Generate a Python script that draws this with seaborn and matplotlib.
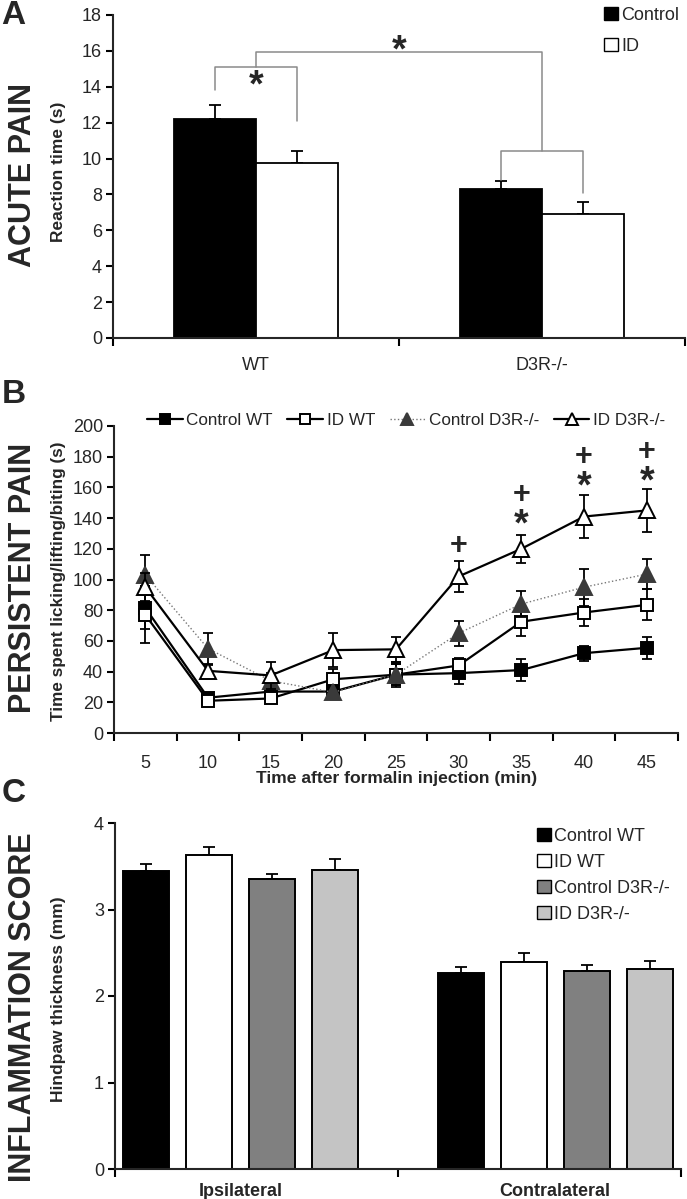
import numpy as np
import pandas as pd
import matplotlib
matplotlib.use("Agg")
import matplotlib.pyplot as plt
import seaborn as sns
from matplotlib.patches import Patch
from matplotlib.lines import Line2D
from matplotlib.container import BarContainer
from matplotlib import font_manager as fm

# ---------------- data ----------------
# Panel A: acute pain
genotypes_a = ["WT", "D3R-/-"]
diets_a = ["Control", "ID"]
acute_control = [12.2, 8.3]
acute_control_err = [0.8, 0.45]
acute_id = [9.75, 6.9]
acute_id_err = [0.65, 0.7]

# Panel B: persistent pain (formalin)
times = [5, 10, 15, 20, 25, 30, 35, 40, 45]
ctrl_wt = [81.5, 23, 27, 27, 38, 39, 41, 52, 55.5]
ctrl_wt_err = [14, 2, 3, 2, 8, 7, 7, 5, 7]
id_wt = [77, 21, 22.5, 35, 38, 44, 72.5, 78.5, 83.5]
id_wt_err = [18.5, 2, 2, 7, 7, 5, 9.5, 9, 10]
ctrl_d3r = [103, 55, 34, 26.5, 38, 65, 84, 95, 103.5]
ctrl_d3r_err = [13, 10, 5, 3, 7, 8, 8.5, 12, 10]
id_d3r = [95, 40.5, 37.5, 54, 54.5, 102, 120, 141, 145]
id_d3r_err = [9, 4, 9, 11, 8, 10, 9, 14, 14]
plus_times = [30, 35, 40, 45]
plus_y = [122, 155, 180, 183]
star_times = [35, 40, 45]
star_y = [139, 164, 167]

# Panel C: inflammation
sides = ["Ipsilateral", "Contralateral"]
groups_c = ["Control WT", "ID WT", "Control D3R-/-", "ID D3R-/-"]
thick_ctrl_wt = [3.45, 2.27]
thick_ctrl_wt_err = [0.08, 0.07]
thick_id_wt = [3.63, 2.39]
thick_id_wt_err = [0.09, 0.11]
thick_ctrl_d3r = [3.35, 2.29]
thick_ctrl_d3r_err = [0.06, 0.07]
thick_id_d3r = [3.46, 2.31]
thick_id_d3r_err = [0.12, 0.10]

# ---------------- style ----------------
sns.set_theme(style="ticks")
names = {f.name for f in fm.fontManager.ttflist}
FONT = "Liberation Sans" if "Liberation Sans" in names else "DejaVu Sans"
plt.rcParams["font.family"] = [FONT, "DejaVu Sans"]
plt.rcParams["axes.linewidth"] = 1.5
TICK = 13

W, H = 687, 1199
fig = plt.figure(figsize=(W / 100, H / 100), dpi=100)


def ax_px(left, right, top, bottom):
    return fig.add_axes([left / W, 1 - bottom / H, (right - left) / W, (bottom - top) / H])


def style_axes(ax, xpad):
    sns.despine(ax=ax)
    ax.tick_params(axis="y", which="major", length=5, width=1.5, labelsize=TICK, pad=3, color="black")
    ax.tick_params(axis="x", which="major", length=0, labelsize=TICK, pad=xpad)
    ax.tick_params(axis="x", which="minor", length=6, width=1.5, color="black", bottom=True)
    ax.set_xlabel("")
    ax.set_ylabel("")
    ax.set_facecolor("none")


def bar_centers(ax):
    conts = [c for c in ax.containers if isinstance(c, BarContainer)]
    return ([[p.get_x() + p.get_width() / 2 for p in c] for c in conts],
            [[p.get_height() for p in c] for c in conts])


def add_up_errors(ax, errs):
    xs_all, hs_all = bar_centers(ax)
    for xs, hs, err in zip(xs_all, hs_all, errs):
        ax.errorbar(xs, hs, yerr=[np.zeros(len(err)), err], fmt="none", ecolor="black",
                    elinewidth=1.3, capsize=4, capthick=1.3, zorder=1)


# ---------------- Panel A ----------------
axA = ax_px(113, 685, 15, 338)
dfA = pd.DataFrame({
    "genotype": genotypes_a * 2,
    "diet": [diets_a[0]] * 2 + [diets_a[1]] * 2,
    "value": acute_control + acute_id,
})
sns.barplot(data=dfA, x="genotype", y="value", hue="diet", order=genotypes_a, hue_order=diets_a,
            palette=["black", "white"], edgecolor="black", linewidth=1.3, width=0.575, gap=0,
            errorbar=None, legend=False, ax=axA, zorder=2)
add_up_errors(axA, [acute_control_err, acute_id_err])
axA.set_ylim(0, 18)
axA.set_yticks(np.arange(0, 19, 2))
axA.set_xlim(-0.5, 1.5)
axA.set_xticks([-0.5, 0.5, 1.5], minor=True)
style_axes(axA, 14)

# significance brackets
cA, _ = bar_centers(axA)
gray = "#8a8a8a"
wt_l, wt_r = cA[0][0], cA[1][0]
d3_l, d3_r = cA[0][1], cA[1][1]
axA.plot([wt_l, wt_l, wt_r, wt_r], [13.8, 15.1, 15.1, 12.1], color=gray, lw=1.1, zorder=3)
axA.plot([d3_l, d3_l, d3_r, d3_r], [8.8, 10.4, 10.4, 8.1], color=gray, lw=1.1, zorder=3)
mid_wt, mid_d3 = (wt_l + wt_r) / 2, (d3_l + d3_r) / 2
axA.plot([mid_wt, mid_wt, mid_d3, mid_d3], [15.1, 15.95, 15.95, 10.4], color=gray, lw=1.1, zorder=3)
axA.text(mid_wt, 14.0, "*", ha="center", va="center", fontsize=27, fontweight="bold")
axA.text((mid_wt + mid_d3) / 2, 15.95, "*", ha="center", va="center", fontsize=27, fontweight="bold")

axA.legend(handles=[Patch(facecolor="black", edgecolor="black", label="Control"),
                    Patch(facecolor="white", edgecolor="black", label="ID")],
           loc="upper left", bbox_to_anchor=(604 / W, 1 - 7 / H), bbox_transform=fig.transFigure,
           frameon=False, fontsize=TICK, handlelength=0.75, handleheight=0.75, handletextpad=0.2,
           labelspacing=0.75, borderpad=0, borderaxespad=0)

fig.text(13 / W, 1 - 15 / H, "A", ha="center", va="center", fontsize=24, fontweight="bold")
fig.text(23 / W, 1 - 175 / H, "ACUTE PAIN", rotation=90, ha="center", va="center", fontsize=22, fontweight="bold")
fig.text(59 / W, 1 - 172 / H, "Reaction time (s)", rotation=90, ha="center", va="center", fontsize=12.5, fontweight="bold")

# ---------------- Panel B ----------------
axB = ax_px(114, 678, 426, 733)
series = [
    ("Control WT", ctrl_wt, ctrl_wt_err, dict(marker="s", markerfacecolor="black", markeredgecolor="black",
                                              linestyle="-", color="black", markersize=9, linewidth=1.6)),
    ("ID WT", id_wt, id_wt_err, dict(marker="s", markerfacecolor="white", markeredgecolor="black",
                                     linestyle="-", color="black", markersize=9, linewidth=1.6)),
    ("Control D3R-/-", ctrl_d3r, ctrl_d3r_err, dict(marker="^", markerfacecolor="#3a3a3a", markeredgecolor="#3a3a3a",
                                                    linestyle=":", color="#777777", markersize=11, linewidth=1.0)),
    ("ID D3R-/-", id_d3r, id_d3r_err, dict(marker="^", markerfacecolor="white", markeredgecolor="black",
                                           linestyle="-", color="black", markersize=11, linewidth=1.6)),
]
tlabels = [str(t) for t in times]
handles = []
for i, (name, vals, errs, kw) in enumerate(series):
    d = pd.DataFrame({"time": tlabels, "value": vals})
    n_before = len(axB.lines)
    sns.pointplot(data=d, x="time", y="value", order=tlabels, errorbar=None, ax=axB,
                  color=kw["color"], markers=kw["marker"], linestyles=kw["linestyle"],
                  markersize=kw["markersize"], linewidth=kw["linewidth"], zorder=3 + i)
    ln = axB.lines[n_before]
    ln.set_markerfacecolor(kw["markerfacecolor"])
    ln.set_markeredgecolor(kw["markeredgecolor"])
    ln.set_markeredgewidth(1.4)
    ln.set_zorder(3 + i)
    xs = ln.get_xdata()
    axB.errorbar(xs, vals, yerr=errs, fmt="none", ecolor="black", elinewidth=1.3, capsize=3.5,
                 capthick=1.3, zorder=2 + i)
    handles.append(Line2D([0], [0], color=kw["color"], linestyle=kw["linestyle"], linewidth=kw["linewidth"],
                          marker=kw["marker"], markerfacecolor=kw["markerfacecolor"],
                          markeredgecolor=kw["markeredgecolor"], markeredgewidth=1.4,
                          markersize=kw["markersize"] - 2, label=name))

pos = {t: i for i, t in enumerate(times)}
for t, y in zip(plus_times, plus_y):
    axB.text(pos[t], y, "+", ha="center", va="center", fontsize=22, fontweight="bold")
for t, y in zip(star_times, star_y):
    axB.text(pos[t], y - 4, "*", ha="center", va="center", fontsize=27, fontweight="bold")

axB.set_ylim(0, 200)
axB.set_yticks(np.arange(0, 201, 20))
axB.set_xlim(-0.5, len(times) - 0.5)
axB.set_xticks(np.arange(-0.5, len(times)), minor=True)
style_axes(axB, 16)
axB.legend(handles=handles, loc="upper left", bbox_to_anchor=(147 / W, 1 - 413 / H),
           bbox_transform=fig.transFigure, ncol=4, frameon=False, fontsize=12.3,
           handlelength=2.1, handletextpad=0.2, columnspacing=0.85, borderpad=0, borderaxespad=0)

fig.text(14 / W, 1 - 394 / H, "B", ha="center", va="center", fontsize=24, fontweight="bold")
fig.text(23 / W, 1 - 578 / H, "PERSISTENT PAIN", rotation=90, ha="center", va="center", fontsize=22, fontweight="bold")
fig.text(59 / W, 1 - 581 / H, "Time spent licking/lifting/biting (s)", rotation=90, ha="center", va="center",
         fontsize=12.3, fontweight="bold")
fig.text(397 / W, 1 - 778 / H, "Time after formalin injection (min)", ha="center", va="center",
         fontsize=12.6, fontweight="bold")

# ---------------- Panel C ----------------
axC = ax_px(115, 681, 823, 1169)
dfC = pd.DataFrame({
    "side": sides * 4,
    "group": [g for g in groups_c for _ in sides],
    "value": thick_ctrl_wt + thick_id_wt + thick_ctrl_d3r + thick_id_d3r,
})
pal_c = ["black", "white", "#808080", "#c4c4c4"]
sns.barplot(data=dfC, x="side", y="value", hue="group", order=sides, hue_order=groups_c,
            palette=pal_c, edgecolor="black", linewidth=1.4, width=0.8, gap=0.27,
            errorbar=None, legend=False, ax=axC, zorder=2)
add_up_errors(axC, [thick_ctrl_wt_err, thick_id_wt_err, thick_ctrl_d3r_err, thick_id_d3r_err])
axC.set_ylim(0, 4)
axC.set_yticks(np.arange(0, 5, 1))
axC.set_xlim(-0.4, 1.4)
axC.set_xticks([-0.4, 0.5, 1.4], minor=True)
style_axes(axC, 10)
for lab in axC.get_xticklabels():
    lab.set_fontweight("bold")
axC.legend(handles=[Patch(facecolor=c, edgecolor="black", label=g) for c, g in zip(pal_c, groups_c)],
           loc="upper left", bbox_to_anchor=(537 / W, 1 - 828 / H), bbox_transform=fig.transFigure,
           frameon=False, fontsize=TICK, handlelength=0.75, handleheight=0.75, handletextpad=0.2,
           labelspacing=0.5, borderpad=0, borderaxespad=0)

fig.text(14 / W, 1 - 794 / H, "C", ha="center", va="center", fontsize=24, fontweight="bold")
fig.text(23 / W, 1 - 1007 / H, "INFLAMMATION SCORE", rotation=90, ha="center", va="center", fontsize=22, fontweight="bold")
fig.text(59 / W, 1 - 999 / H, "Hindpaw thickness (mm)", rotation=90, ha="center", va="center",
         fontsize=12.5, fontweight="bold")

fig.savefig("out.png", dpi=100)
